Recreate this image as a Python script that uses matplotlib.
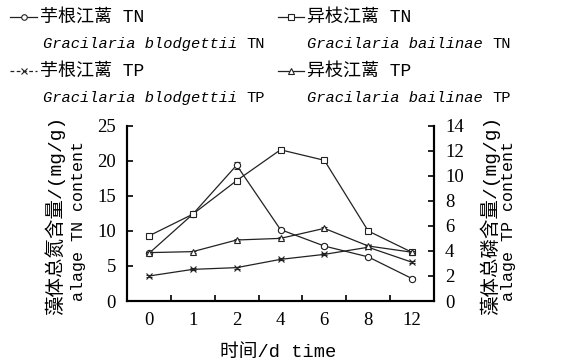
import matplotlib
matplotlib.use("Agg")
import matplotlib.pyplot as plt
from matplotlib.lines import Line2D
import numpy as np

days = ["0", "1", "2", "4", "6", "8", "12"]
gb_tn = [6.8, 12.4, 19.4, 10.2, 7.85, 6.3, 3.2]
gb_tn_err = [0.2, 0.2, 0.5, 0.2, 0.3, 0.2, 0.2]
gba_tn = [9.3, 12.4, 17.2, 21.6, 20.1, 10.0, 6.95]
gba_tn_err = [0.2, 0.2, 0.4, 0.3, 0.2, 0.2, 0.2]
gb_tp = [2.0, 2.53, 2.67, 3.33, 3.73, 4.3, 3.1]
gb_tp_err = [0.08, 0.08, 0.08, 0.08, 0.08, 0.08, 0.08]
gba_tp = [3.87, 3.95, 4.88, 5.01, 5.81, 4.4, 3.9]
gba_tp_err = [0.08, 0.08, 0.1, 0.08, 0.1, 0.08, 0.08]

left_ticks = [0, 5, 10, 15, 20, 25]
right_ticks = [0, 2, 4, 6, 8, 10, 12, 14]

CJK = "Noto Sans CJK SC"
SERIF = "Liberation Serif"
MONO = "Liberation Mono"

W, H = 565, 364
fig = plt.figure(figsize=(W / 100, H / 100), dpi=100)
ax = fig.add_axes([127 / W, 1 - 301 / H, (434 - 127) / W, (301 - 126) / H])
ax2 = ax.twinx()

x = np.arange(len(days))
lc = "#222222"
common = dict(color=lc, lw=0.9, ms=4.5, mfc="white", mec=lc, mew=0.8,
              elinewidth=0.8, capsize=2, ecolor=lc)
ax.errorbar(x, gb_tn, yerr=gb_tn_err, marker="o", **common)
ax.errorbar(x, gba_tn, yerr=gba_tn_err, marker="s", **common)
ax2.errorbar(x, gb_tp, yerr=gb_tp_err, marker="x", **common)
ax2.errorbar(x, gba_tp, yerr=gba_tp_err, marker="^", **common)

ax.set_xlim(-0.5, len(days) - 0.5)
ax.set_ylim(0, 25)
ax2.set_ylim(0, 14)
ax.set_yticks(left_ticks)
ax2.set_yticks(right_ticks)
ax.set_xticks(x)
ax.set_xticklabels(days)
ax.set_xticks(np.arange(0.5, len(days) - 1, 1), minor=True)
ax.tick_params(axis="x", which="major", length=0, pad=8, labelsize=13.5)
ax.tick_params(axis="x", which="minor", direction="in", length=4, width=1.2)
ax.tick_params(axis="y", direction="in", length=4, width=1.2, labelsize=13.5, pad=8)
ax2.tick_params(axis="y", direction="in", length=4, width=1.2, labelsize=13.5, pad=8)
for a in (ax, ax2):
    for lab in a.get_xticklabels() + a.get_yticklabels():
        lab.set_family(SERIF)
    a.spines["top"].set_visible(False)
    for s in ("left", "right", "bottom"):
        a.spines[s].set_linewidth(1.5)

# axis labels
fig.text(55 / W, 1 - 215 / H, "藻体总氮含量/(mg/g)", rotation=90, ha="center", va="center",
         family=[MONO, CJK], fontsize=14)
fig.text(78 / W, 1 - 221 / H, "alage TN content", rotation=90, ha="center", va="center",
         family=[MONO, CJK], fontsize=12)
fig.text(490 / W, 1 - 215 / H, "藻体总磷含量/(mg/g)", rotation=90, ha="center", va="center",
         family=[MONO, CJK], fontsize=14)
fig.text(509 / W, 1 - 221 / H, "alage TP content", rotation=90, ha="center", va="center",
         family=[MONO, CJK], fontsize=12)
fig.text(278 / W, 1 - 352 / H, "时间/d time", ha="center", va="center",
         family=[MONO, CJK], fontsize=13.5)

# legend (manual)
entries = [
    (10, 37, 40, 17, "o", "芋根江蓠 TN", "Gracilaria blodgettii", "TN", 43),
    (278, 304, 307, 17, "s", "异枝江蓠 TN", "Gracilaria bailinae", "TN", 307),
    (10, 37, 40, 71, "x", "芋根江蓠 TP", "Gracilaria blodgettii", "TP", 43),
    (278, 304, 307, 71, "^", "异枝江蓠 TP", "Gracilaria bailinae", "TP", 307),
]
for x0, x1, tx, ty, mk, cn, sp, suf, sx in entries:
    ls = (0, (3, 2)) if mk == "x" else "-"
    fig.add_artist(Line2D([x0 / W, x1 / W], [1 - ty / H, 1 - ty / H], color=lc, lw=0.9, ls=ls))
    fig.add_artist(Line2D([(x0 + x1) / 2 / W], [1 - ty / H], marker=mk, ms=4, mfc="white",
                          mec=lc, mew=0.8, color=lc))
    fig.text(tx / W, 1 - ty / H, cn, ha="left", va="center", family=[MONO, CJK],
             fontsize=13)
    t = fig.text(sx / W, 1 - (ty + 27) / H, sp + " ", ha="left", va="center",
                 family=MONO, style="italic", fontsize=11.1)
    fig.canvas.draw()
    bb = t.get_window_extent()
    fig.text(bb.x1 / W, 1 - (ty + 27) / H, suf, ha="left", va="center",
             family=MONO, fontsize=11.1)

fig.savefig("out.png", dpi=100)
